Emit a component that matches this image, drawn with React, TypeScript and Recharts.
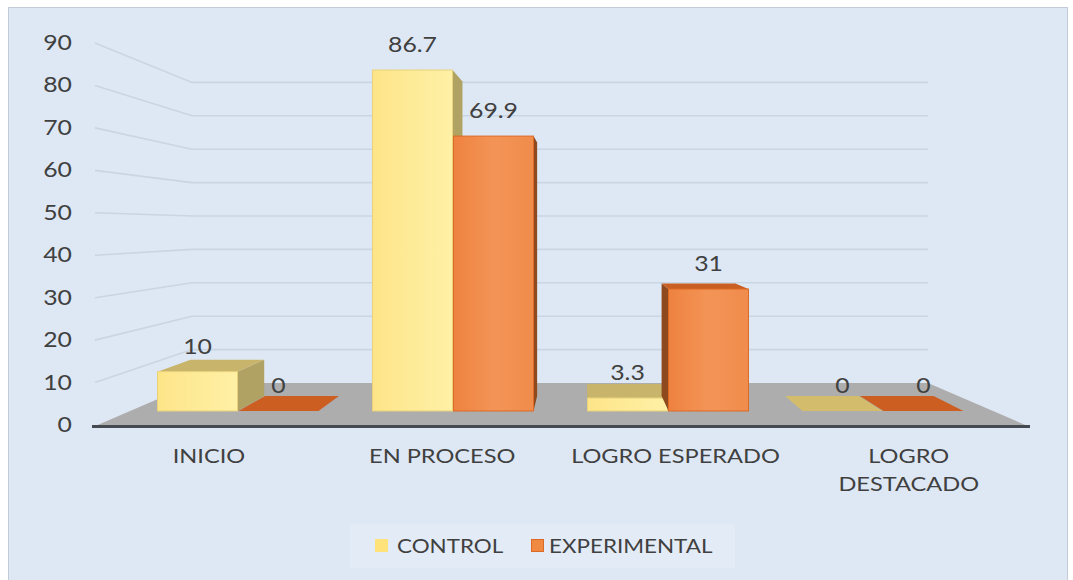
import React from 'react';
import { BarChart, Bar, XAxis, YAxis, LabelList } from 'recharts';

const categories = ['INICIO', 'EN PROCESO', 'LOGRO ESPERADO', 'LOGRO DESTACADO'];
const controlValues = [10, 86.7, 3.3, 0];
const experimentalValues = [0, 69.9, 31, 0];
const yTicks = [0, 10, 20, 30, 40, 50, 60, 70, 80, 90];
const seriesNames = ['CONTROL', 'EXPERIMENTAL'];

const data = categories.map((c, i) => ({
  name: c,
  control: controlValues[i],
  experimental: experimentalValues[i],
}));

const FONT = 'Lato, "Liberation Sans", sans-serif';
const TEXT = '#404040';
const SX = 1.18;

// perspective helpers (decoration only)
const VX = 580;
const VY = 218;
const K = 0.078;
const back = (px: number, py: number): [number, number] => [px + (VX - px) * K, py + (VY - py) * K];

const STYLES: Record<string, any> = {
  control: {
    front: 'url(#gCtrl)', edge: '#e9d27a', side: '#b0a262', top: '#c9b46c', flat: '#d3bd6c',
  },
  experimental: {
    front: 'url(#gExp)', edge: '#dd6a24', side: '#8e4a1e', top: '#c95f22', flat: '#cd5e22',
  },
};

const pts = (arr: [number, number][]) => arr.map((p) => p.join(',')).join(' ');

const makeShape = (key: string) => (props: any) => {
  const { x, y, width, height } = props;
  const s = STYLES[key];
  const x0 = x;
  const x1 = x + width;
  const yt = y;
  const yb = y + height;
  if (!(height > 0.5)) {
    const a = back(x0, yb);
    const b = back(x1, yb);
    return <polygon points={pts([[x0, yb], [x1, yb], b, a])} fill={s.flat} />;
  }
  const els: any[] = [];
  if (x1 < VX) {
    els.push(<polygon key="s" points={pts([[x1, yt], back(x1, yt), back(x1, yb), [x1, yb]])} fill={s.side} />);
  } else if (x0 > VX) {
    els.push(<polygon key="s" points={pts([[x0, yt], back(x0, yt), back(x0, yb), [x0, yb]])} fill={s.side} />);
  }
  if (yt > VY) {
    els.push(<polygon key="t" points={pts([[x0, yt], [x1, yt], back(x1, yt), back(x0, yt)])} fill={s.top} />);
  }
  els.push(<rect key="f" x={x0} y={yt} width={width} height={height} fill={s.front} stroke={s.edge} strokeWidth={1} />);
  return <g>{els}</g>;
};

const Floor = () => (
  <g>
    {yTicks.filter((v) => v > 0).map((v) => {
      const fy = 425 - v * (382 / 90);
      const by = 383 - v * 3.34;
      return (
        <polyline key={v} points={`95,${fy} 192,${by} 928,${by}`} fill="none" stroke="#c9d5e3" strokeWidth={1.6} />
      );
    })}
    <polygon points="93,427 195,383 928,383 1030,427" fill="#adadad" />
    <line x1={92} y1={426.5} x2={1030} y2={426.5} stroke="#454a50" strokeWidth={3} />
  </g>
);

const WideText = ({ x, y, anchor = 'middle', size = 20, lines, dy = 0, lh = 28 }: any) => (
  <text
    transform={`translate(${x} ${y}) scale(${SX} 1)`}
    textAnchor={anchor}
    fill={TEXT}
    fontSize={size}
    fontFamily={FONT}
  >
    {lines.map((l: string, i: number) => (
      <tspan key={i} x={0} dy={i === 0 ? dy : lh}>{l}</tspan>
    ))}
  </text>
);

const YTick = (props: any) => {
  const { y, payload } = props;
  return <WideText x={72} y={y} anchor="end" size={21} dy={7} lines={[String(payload.value)]} />;
};

const XTick = (props: any) => {
  const { x, y, payload } = props;
  const label: string = payload.value;
  const lines = label.length > 14 ? label.split(' ') : [label];
  const cx = x + (x - VX) * 0.085;
  return <WideText x={cx} y={y} size={20} dy={30} lh={28} lines={lines} />;
};

const ValueLabel = (props: any) => {
  const { x, y, width, value } = props;
  return <WideText x={x + width / 2} y={y} size={21} dy={-18} lines={[String(value)]} />;
};

const legendColors = ['#ffe27a', '#f08a42'];
const legendLeft = [25, 181];
const legendGap = [9, 5];

export default function App() {
  return (
    <div style={{ position: 'absolute', left: 0, top: 0, width: 1073, height: 580, overflow: 'hidden' }}>
      <div
        style={{
          position: 'absolute', left: 8, top: 7, width: 1060, height: 590,
          background: '#dee8f4', border: '1px solid #c3ccd6', boxSizing: 'border-box',
        }}
      />
      <div style={{ position: 'absolute', left: 0, top: 0 }}>
        <BarChart
          width={1073}
          height={580}
          data={data}
          margin={{ top: 43, right: 82.5, bottom: 95, left: 70.5 }}
          barGap={1}
          barSize={80}
        >
          <defs>
            <linearGradient id="gCtrl" x1="0" y1="0" x2="1" y2="0">
              <stop offset="0" stopColor="#fde488" />
              <stop offset="0.5" stopColor="#feeb98" />
              <stop offset="1" stopColor="#fff0a6" />
            </linearGradient>
            <linearGradient id="gExp" x1="0" y1="0" x2="1" y2="0">
              <stop offset="0" stopColor="#ee8240" />
              <stop offset="0.5" stopColor="#f39456" />
              <stop offset="1" stopColor="#f08c4c" />
            </linearGradient>
          </defs>
          <Floor />
          <XAxis dataKey="name" axisLine={false} tickLine={false} height={60} tick={<XTick />} interval={0} />
          <YAxis yAxisId="v" domain={[0, 90]} ticks={yTicks} axisLine={false} tickLine={false} width={60} tick={<YTick />} allowDataOverflow />
          <YAxis yAxisId="b" domain={[-3.56, 93.57]} allowDataOverflow hide />
          <Bar yAxisId="b" dataKey="control" name={seriesNames[0]} isAnimationActive={false} shape={makeShape('control')}>
            <LabelList dataKey="control" content={<ValueLabel />} />
          </Bar>
          <Bar yAxisId="b" dataKey="experimental" name={seriesNames[1]} isAnimationActive={false} shape={makeShape('experimental')}>
            <LabelList dataKey="experimental" content={<ValueLabel />} />
          </Bar>
        </BarChart>
      </div>
      <div
        style={{
          position: 'absolute', left: 350, top: 524, width: 385, height: 44,
          background: '#e3ebf6', fontFamily: FONT, fontSize: 19, color: TEXT,
        }}
      >
        {seriesNames.map((n, i) => (
          <div key={n} style={{ position: 'absolute', left: legendLeft[i], top: 10, display: 'flex', alignItems: 'center' }}>
            <span style={{ display: 'inline-block', width: 13, height: 13, background: legendColors[i], border: i === 1 ? '1px solid #dd6a24' : 'none', boxSizing: 'border-box', marginRight: legendGap[i] }} />
            <span style={{ display: 'inline-block', transform: `scaleX(${SX})`, transformOrigin: 'left center' }}>{n}</span>
          </div>
        ))}
      </div>
    </div>
  );
}
